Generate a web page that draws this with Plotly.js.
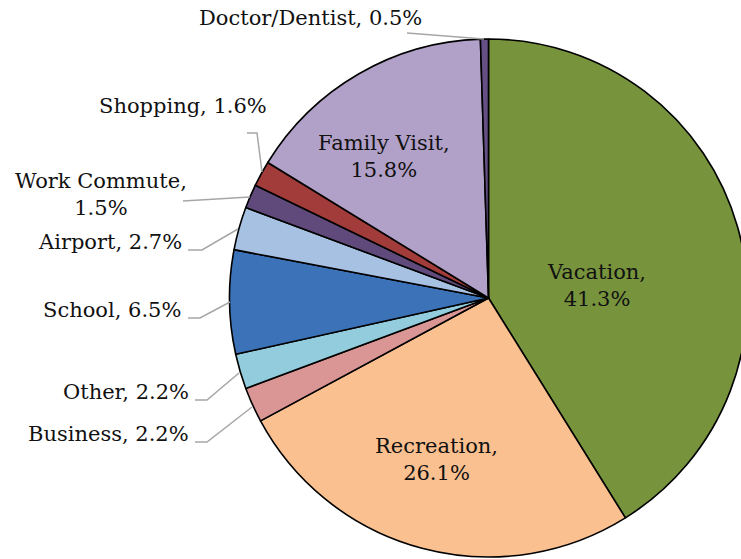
<!DOCTYPE html>
<html>
<head>
<meta charset="utf-8">
<script src="https://cdn.plot.ly/plotly-3.0.1.min.js"></script>
<style>
  html, body { margin: 0; padding: 0; overflow: hidden; background: #fff; }
  #chart { width: 760px; height: 559px; }
</style>
</head>
<body>
<div id="chart"></div>
<script>
// データ (時計回り、12時から)
const categories = ['Vacation', 'Recreation', 'Business', 'Other', 'School', 'Airport',
    'Work Commute', 'Shopping', 'Family Visit', 'Doctor/Dentist'];
const shares = [41.3, 26.1, 2.2, 2.2, 6.5, 2.7, 1.5, 1.6, 15.8, 0.5];
const sliceColors = ['#77933C', '#FAC090', '#D99694', '#93CDDD', '#3C73B8', '#A7C1E3',
    '#604A7B', '#A13C3A', '#B1A0C7', '#654F85'];

const W = 760, H = 559;
const px = x => x / W;
const py = y => 1 - y / H;

// ラベル配置 (ピクセル) — 位置と揃え
const labelPlacement = {
    'Vacation':       { x: 596, y: 285, anchor: 'center', wrap: true },
    'Recreation':     { x: 436, y: 459, anchor: 'center', wrap: true },
    'Family Visit':   { x: 384, y: 156, anchor: 'center', wrap: true },
    'Doctor/Dentist': { x: 424, y: 18,  anchor: 'right' },
    'Shopping':       { x: 269, y: 106, anchor: 'right' },
    'Work Commute':   { x: 101, y: 194, anchor: 'center', wrap: true },
    'Airport':        { x: 184, y: 242, anchor: 'right' },
    'School':         { x: 183, y: 310, anchor: 'right' },
    'Other':          { x: 191, y: 392, anchor: 'right' },
    'Business':       { x: 191, y: 434, anchor: 'right' }
};

// 引き出し線 (ピクセル)
const leaderLines = [
    [[407, 33], [484, 39]],
    [[247, 133], [257, 133], [262, 172]],
    [[183, 201], [250, 197]],
    [[188, 250], [202, 250], [238, 229]],
    [[188, 318], [200, 318], [230, 302]],
    [[195, 400], [207, 400], [239, 373]],
    [[195, 442], [207, 442], [252, 407]]
];

const font = { family: 'DejaVu Serif, serif', size: 21, color: '#111' };

const annotations = categories.map((c, i) => {
    const p = labelPlacement[c];
    const pct = shares[i].toFixed(1) + '%';
    return {
        xref: 'paper', yref: 'paper',
        x: px(p.x), y: py(p.y),
        xanchor: p.anchor, yanchor: 'middle',
        align: 'center',
        text: p.wrap ? `${c},<br>${pct}` : `${c}, ${pct}`,
        showarrow: false,
        font: font
    };
});

const shapes = leaderLines.map(pts => ({
    type: 'path',
    xref: 'paper', yref: 'paper',
    path: pts.map((p, k) => `${k ? 'L' : 'M'}${px(p[0])},${py(p[1])}`).join(' '),
    line: { color: '#A6A6A6', width: 1.5 }
}));

const trace = {
    type: 'pie',
    labels: categories,
    values: shares,
    sort: false,
    direction: 'clockwise',
    rotation: 0,
    textinfo: 'none',
    hoverinfo: 'label+percent',
    marker: { colors: sliceColors, line: { color: '#000', width: 1.6 } },
    domain: { x: [px(229.5), px(747.5)], y: [py(557), py(39)] }
};

const layout = {
    width: W, height: H,
    margin: { l: 0, r: 0, t: 0, b: 0 },
    showlegend: false,
    paper_bgcolor: '#fff',
    annotations: annotations,
    shapes: shapes
};

Plotly.newPlot('chart', [trace], layout, { staticPlot: true });
</script>
</body>
</html>
